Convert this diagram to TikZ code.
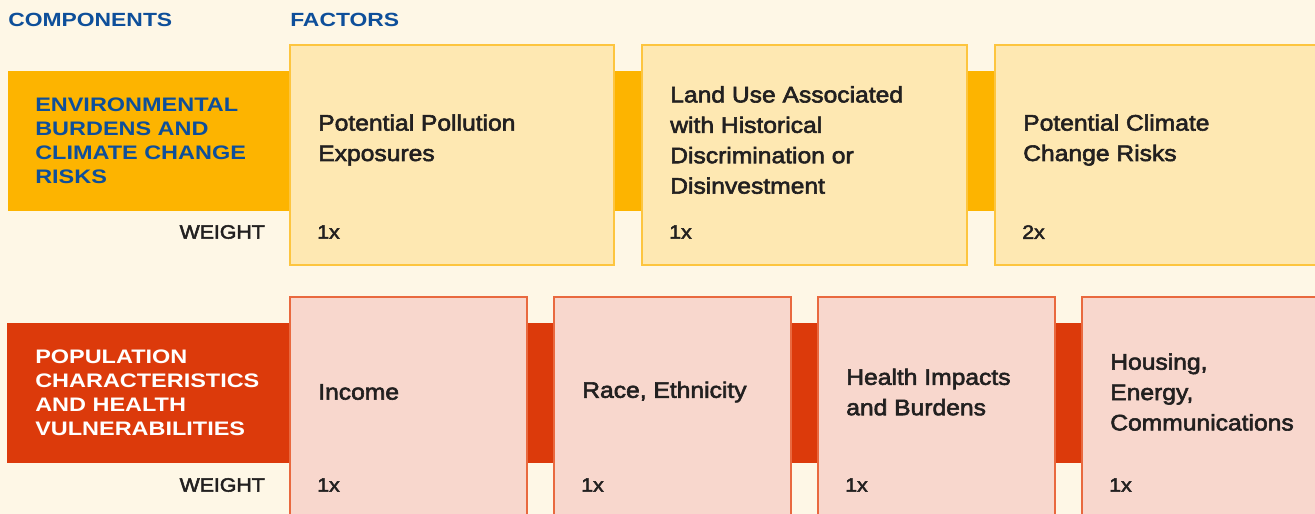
\documentclass[tikz,border=0pt]{standalone}
\usepackage{fontspec}
\setmainfont{Liberation Sans}
\newfontfamily\headfont[FakeStretch=1.2]{Liberation Sans}
\newfontfamily\bodyfont[FakeStretch=1.1,FakeBold=2.6]{Liberation Sans}
\definecolor{paper}{HTML}{FEF7E6}
\definecolor{amber}{HTML}{FDB400}
\definecolor{amberfill}{HTML}{FEE8B2}
\definecolor{amberline}{HTML}{FDC53F}
\definecolor{navy}{HTML}{0E4F9A}
\definecolor{rust}{HTML}{DC3A0B}
\definecolor{rustfill}{HTML}{F8D7CD}
\definecolor{rustline}{HTML}{E9693F}
\definecolor{ink}{HTML}{222020}
\tikzset{
  header/.style={anchor=west, inner sep=0pt, text=navy,
    font=\headfont\bfseries\fontsize{14.3}{18}\selectfont},
  comptext/.style={anchor=west, inner sep=0pt, align=left,
    font=\headfont\bfseries\fontsize{14.66}{18}\selectfont},
  factor/.style={anchor=west, inner sep=0pt, align=left, text=ink,
    font=\bodyfont\fontsize{16.8}{22.8}\selectfont},
  weight/.style={inner sep=0pt, text=ink,
    font=\bodyfont\fontsize{14.5}{17}\selectfont},
  topbox/.style={draw=amberline, fill=amberfill, line width=0.9pt},
  botbox/.style={draw=rustline, fill=rustfill, line width=0.8pt},
}
\begin{document}
\begin{tikzpicture}[x=0.75pt,y=-0.75pt]
\clip (0,0) rectangle (1315,514);
\fill[paper] (0,0) rectangle (1315,514);

% column headings
\node[header] (hcomp) at (8,20) {COMPONENTS};
\node[header] (hfact) at (290,20) {FACTORS};

% ---- environmental burdens row ----
\fill[amber] (8,71) rectangle (1320,211);
\node[comptext, text=navy] (envc) at (35,141)
  {ENVIRONMENTAL\\BURDENS AND\\CLIMATE CHANGE\\RISKS};
\node[weight, anchor=east] (envw) at (265,232) {WEIGHT};

\draw[topbox] (290,45) rectangle (614,265);
\draw[topbox] (642,45) rectangle (967,265);
\draw[topbox] (995,45) rectangle (1340,265);

\node[factor] (f1) at (318,140) {Potential Pollution\\Exposures};
\node[factor] (f2) at (670,140) {Land Use Associated\\with Historical\\Discrimination or\\Disinvestment};
\node[factor] (f3) at (1023,140) {Potential Climate\\Change Risks};
\node[weight, anchor=west] (w1) at (317,232) {1x};
\node[weight, anchor=west] (w2) at (669,232) {1x};
\node[weight, anchor=west] (w3) at (1022,232) {2x};

% ---- population characteristics row ----
\fill[rust] (7,323) rectangle (1320,463);
\node[comptext, text=white] (popc) at (35,393)
  {POPULATION\\CHARACTERISTICS\\AND HEALTH\\VULNERABILITIES};
\node[weight, anchor=east] (popw) at (265,485) {WEIGHT};

\draw[botbox] (290,297) rectangle (527,540);
\draw[botbox] (554,297) rectangle (791,540);
\draw[botbox] (818,297) rectangle (1055,540);
\draw[botbox] (1082,297) rectangle (1340,540);

\node[factor] (g1) at (318,392) {Income};
\node[factor] (g2) at (582,392) {Race, Ethnicity};
\node[factor] (g3) at (846,392) {Health Impacts\\and Burdens};
\node[factor] (g4) at (1110,392) {Housing,\\Energy,\\Communications};
\node[weight, anchor=west] (v1) at (317,485) {1x};
\node[weight, anchor=west] (v2) at (581,485) {1x};
\node[weight, anchor=west] (v3) at (845,485) {1x};
\node[weight, anchor=west] (v4) at (1109,485) {1x};
\end{tikzpicture}
\end{document}
